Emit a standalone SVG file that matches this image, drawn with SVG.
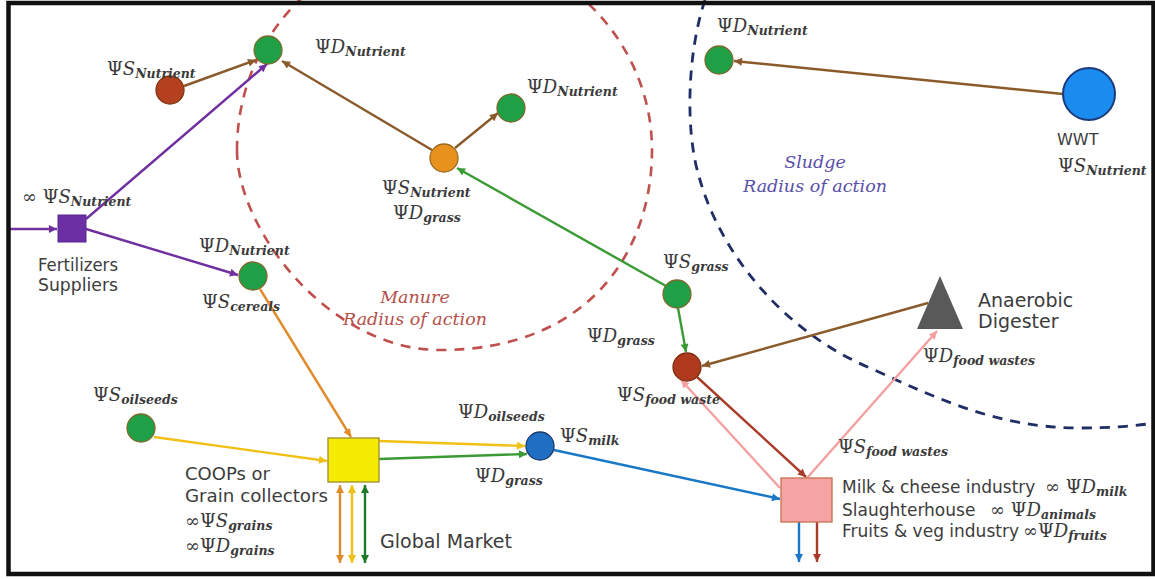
<svg xmlns="http://www.w3.org/2000/svg" width="1155" height="579" viewBox="0 0 1155 579">
<style>
.m{font-family:"DejaVu Serif",serif;font-size:18px;fill:#3a3a3a}
.i{font-style:italic}
.s{font-style:italic;font-weight:bold;font-size:12.5px}
.t{font-family:"DejaVu Sans","Liberation Sans",sans-serif;font-size:18px;fill:#3c3c3c}
.ra{font-family:"DejaVu Serif",serif;font-style:italic;font-size:17.5px;text-anchor:middle}
.gn{fill:#1fa047;stroke:#7c6a2c;stroke-width:1.3}
.c{fill:none;stroke-width:2.4}
</style>
<defs>
<marker id="aBr" viewBox="0 0 10 10" refX="10" refY="5" markerWidth="10" markerHeight="8" markerUnits="userSpaceOnUse" orient="auto-start-reverse"><path d="M0,0L10,5L0,10z" fill="#8b5a2b"/></marker>
<marker id="aPu" viewBox="0 0 10 10" refX="10" refY="5" markerWidth="10" markerHeight="8" markerUnits="userSpaceOnUse" orient="auto-start-reverse"><path d="M0,0L10,5L0,10z" fill="#7030a0"/></marker>
<marker id="aGr" viewBox="0 0 10 10" refX="10" refY="5" markerWidth="10" markerHeight="8" markerUnits="userSpaceOnUse" orient="auto-start-reverse"><path d="M0,0L10,5L0,10z" fill="#3a9a34"/></marker>
<marker id="aDg" viewBox="0 0 10 10" refX="10" refY="5" markerWidth="10" markerHeight="8" markerUnits="userSpaceOnUse" orient="auto-start-reverse"><path d="M0,0L10,5L0,10z" fill="#1f7a2a"/></marker>
<marker id="aOr" viewBox="0 0 10 10" refX="10" refY="5" markerWidth="10" markerHeight="8" markerUnits="userSpaceOnUse" orient="auto-start-reverse"><path d="M0,0L10,5L0,10z" fill="#e08c2c"/></marker>
<marker id="aYe" viewBox="0 0 10 10" refX="10" refY="5" markerWidth="10" markerHeight="8" markerUnits="userSpaceOnUse" orient="auto-start-reverse"><path d="M0,0L10,5L0,10z" fill="#f2c014"/></marker>
<marker id="aBl" viewBox="0 0 10 10" refX="10" refY="5" markerWidth="10" markerHeight="8" markerUnits="userSpaceOnUse" orient="auto-start-reverse"><path d="M0,0L10,5L0,10z" fill="#1a78c8"/></marker>
<marker id="aRd" viewBox="0 0 10 10" refX="10" refY="5" markerWidth="10" markerHeight="8" markerUnits="userSpaceOnUse" orient="auto-start-reverse"><path d="M0,0L10,5L0,10z" fill="#a83c28"/></marker>
<marker id="aPk" viewBox="0 0 10 10" refX="10" refY="5" markerWidth="10" markerHeight="8" markerUnits="userSpaceOnUse" orient="auto-start-reverse"><path d="M0,0L10,5L0,10z" fill="#f4a0a0"/></marker>
</defs>
<rect x="0" y="0" width="1155" height="579" fill="#ffffff"/>

<g id="radii">
<path d="M237,150 C237,230 330,350 440,350 C590,350 652,250 652,150 C652,40 560,-55 440,-55 C320,-55 237,40 237,150Z" fill="none" stroke="#c0504d" stroke-width="2.6" stroke-dasharray="10,8"/>
<path d="M705,0 C688,50 684,130 700,180 C720,250 780,330 870,368 C940,400 1000,428 1080,428 C1110,428 1135,426 1155,423" fill="none" stroke="#1f2f66" stroke-width="2.8" stroke-dasharray="10,8"/>
<text class="ra" x="415" y="303" fill="#b5504a">Manure</text>
<text class="ra" x="415" y="325" fill="#b5504a">Radius of action</text>
<text class="ra" x="815" y="168" fill="#5a4ea8">Sludge</text>
<text class="ra" x="815" y="192" fill="#5a4ea8">Radius of action</text>
</g>

<g id="connectors">
<line class="c" x1="184" y1="86" x2="256" y2="60" stroke="#8b5a2b" marker-end="url(#aBr)"/>
<line class="c" x1="86" y1="219" x2="267" y2="64" stroke="#7030a0" marker-end="url(#aPu)"/>
<line class="c" x1="86" y1="229" x2="238" y2="275" stroke="#7030a0" marker-end="url(#aPu)"/>
<line class="c" x1="9" y1="229" x2="57" y2="229" stroke="#7030a0" marker-end="url(#aPu)"/>
<line class="c" x1="432" y1="150" x2="282" y2="61" stroke="#8b5a2b" marker-end="url(#aBr)"/>
<line class="c" x1="455" y1="148" x2="498" y2="113" stroke="#8b5a2b" marker-end="url(#aBr)"/>
<line class="c" x1="666" y1="286" x2="457" y2="168" stroke="#3a9a34" marker-end="url(#aGr)"/>
<line class="c" x1="1063" y1="94" x2="734" y2="61" stroke="#8b5a2b" marker-end="url(#aBr)"/>
<line class="c" x1="678" y1="308" x2="686" y2="352" stroke="#3a9a34" marker-end="url(#aGr)"/>
<line class="c" x1="928" y1="303" x2="702" y2="366" stroke="#8b5a2b" marker-end="url(#aBr)"/>
<line class="c" x1="697" y1="377" x2="806" y2="477" stroke="#a83c28" marker-end="url(#aRd)"/>
<line class="c" x1="780" y1="488" x2="681" y2="380" stroke="#f4a0a0" marker-end="url(#aPk)"/>
<line class="c" x1="807" y1="478" x2="937" y2="331" stroke="#f4a0a0" marker-end="url(#aPk)"/>
<line class="c" x1="554" y1="450" x2="780" y2="499" stroke="#1a78c8" marker-end="url(#aBl)"/>
<line class="c" x1="260" y1="289" x2="351" y2="437" stroke="#e08c2c" marker-end="url(#aOr)"/>
<line class="c" x1="154" y1="437" x2="327" y2="461" stroke="#f2c014" marker-end="url(#aYe)"/>
<line class="c" x1="379" y1="441" x2="525" y2="446" stroke="#f2c014" marker-end="url(#aYe)"/>
<line class="c" x1="379" y1="459" x2="527" y2="454" stroke="#3a9a34" marker-end="url(#aGr)"/>
<line class="c" x1="340" y1="485" x2="340" y2="563" stroke="#e08c2c" marker-start="url(#aOr)" marker-end="url(#aOr)"/>
<line class="c" x1="352" y1="485" x2="352" y2="563" stroke="#f2c014" marker-start="url(#aYe)" marker-end="url(#aYe)"/>
<line class="c" x1="365" y1="485" x2="365" y2="563" stroke="#1f7a2a" marker-start="url(#aDg)" marker-end="url(#aDg)"/>
<line class="c" x1="799" y1="522" x2="799" y2="562" stroke="#1a78c8" marker-end="url(#aBl)"/>
<line class="c" x1="817" y1="522" x2="817" y2="562" stroke="#a83c28" marker-end="url(#aRd)"/>
</g>

<g id="n-demand-top"><circle class="gn" cx="268" cy="50" r="14"/>
<text class="m" x="315" y="53">Ψ<tspan class="i">D</tspan><tspan class="s" dy="3">Nutrient</tspan></text></g>
<g id="n-supply-nutrient"><circle cx="170" cy="90" r="14" fill="#b5401f" stroke="#7a3a12" stroke-width="1.3"/>
<text class="m" x="107" y="75">Ψ<tspan class="i">S</tspan><tspan class="s" dy="3">Nutrient</tspan></text></g>
<g id="n-fertilizers"><rect x="58" y="215" width="28" height="27" fill="#6b2fa3" stroke="#5a2890" stroke-width="1"/>
<text class="m" x="22" y="203">∞ Ψ<tspan class="i">S</tspan><tspan class="s" dy="3">Nutrient</tspan></text>
<text class="t" x="38" y="271" textLength="80" lengthAdjust="spacingAndGlyphs">Fertilizers</text>
<text class="t" x="38" y="291" textLength="80" lengthAdjust="spacingAndGlyphs">Suppliers</text></g>
<g id="n-cereals"><circle class="gn" cx="253" cy="276" r="14"/>
<text class="m" x="199" y="252">Ψ<tspan class="i">D</tspan><tspan class="s" dy="3">Nutrient</tspan></text>
<text class="m" x="202" y="308">Ψ<tspan class="i">S</tspan><tspan class="s" dy="3">cereals</tspan></text></g>
<g id="n-manure"><circle cx="444" cy="158" r="14" fill="#e8921e" stroke="#9a6a20" stroke-width="1.3"/>
<text class="m" x="382" y="194">Ψ<tspan class="i">S</tspan><tspan class="s" dy="3">Nutrient</tspan></text>
<text class="m" x="393" y="219">Ψ<tspan class="i">D</tspan><tspan class="s" dy="3">grass</tspan></text></g>
<g id="n-demand-mid"><circle class="gn" cx="511" cy="108" r="14"/>
<text class="m" x="527" y="93">Ψ<tspan class="i">D</tspan><tspan class="s" dy="3">Nutrient</tspan></text></g>
<g id="n-demand-right"><circle class="gn" cx="719" cy="60" r="14"/>
<text class="m" x="717" y="32">Ψ<tspan class="i">D</tspan><tspan class="s" dy="3">Nutrient</tspan></text></g>
<g id="n-wwt"><circle cx="1089" cy="94" r="26" fill="#1a8cf0" stroke="#1a3a7a" stroke-width="2"/>
<text class="t" x="1057" y="145" style="font-size:16px">WWT</text>
<text class="m" x="1058" y="172">Ψ<tspan class="i">S</tspan><tspan class="s" dy="3">Nutrient</tspan></text></g>
<g id="n-grass"><circle class="gn" cx="677" cy="294" r="14"/>
<text class="m" x="663" y="268">Ψ<tspan class="i">S</tspan><tspan class="s" dy="3">grass</tspan></text></g>
<g id="n-foodwaste"><circle cx="687" cy="367" r="14" fill="#b03a1e" stroke="#7a3012" stroke-width="1.3"/>
<text class="m" x="587" y="342">Ψ<tspan class="i">D</tspan><tspan class="s" dy="3">grass</tspan></text>
<text class="m" x="617" y="401">Ψ<tspan class="i">S</tspan><tspan class="s" dy="3">food waste</tspan></text></g>
<g id="n-digester"><path d="M940,276 L963,329 L917,329Z" fill="#595959"/>
<text class="t" x="978" y="307" style="font-size:19px">Anaerobic</text>
<text class="t" x="978" y="328" style="font-size:19px">Digester</text>
<text class="m" x="923" y="362">Ψ<tspan class="i">D</tspan><tspan class="s" dy="3">food wastes</tspan></text></g>
<g id="n-oilseeds"><circle class="gn" cx="141" cy="428" r="14"/>
<text class="m" x="93" y="401">Ψ<tspan class="i">S</tspan><tspan class="s" dy="3">oilseeds</tspan></text></g>
<g id="n-coops"><rect x="328" y="438" width="51" height="44" fill="#f5eb00" stroke="#a08a30" stroke-width="1.3"/>
<text class="t" x="185" y="480">COOPs or</text>
<text class="t" x="185" y="502" textLength="143" lengthAdjust="spacingAndGlyphs">Grain collectors</text>
<text class="m" x="185" y="527">∞Ψ<tspan class="i">S</tspan><tspan class="s" dy="3">grains</tspan></text>
<text class="m" x="185" y="552">∞Ψ<tspan class="i">D</tspan><tspan class="s" dy="3">grains</tspan></text>
<text class="t" x="380" y="548" style="font-size:19px">Global Market</text></g>
<g id="n-milk"><circle cx="540" cy="446" r="14" fill="#1f6fc4" stroke="#1a3a6a" stroke-width="1.3"/>
<text class="m" x="458" y="418">Ψ<tspan class="i">D</tspan><tspan class="s" dy="3">oilseeds</tspan></text>
<text class="m" x="475" y="482">Ψ<tspan class="i">D</tspan><tspan class="s" dy="3">grass</tspan></text>
<text class="m" x="560" y="442">Ψ<tspan class="i">S</tspan><tspan class="s" dy="3">milk</tspan></text></g>
<g id="n-industry"><rect x="781" y="478" width="51" height="44" fill="#f5a3a3" stroke="#c87050" stroke-width="1.3"/>
<text class="m" x="838" y="453">Ψ<tspan class="i">S</tspan><tspan class="s" dy="3">food wastes</tspan></text>
<text class="t" x="842" y="493" style="font-size:17px">Milk &amp; cheese industry</text>
<text class="m" x="1045" y="493">∞ Ψ<tspan class="i">D</tspan><tspan class="s" dy="3">milk</tspan></text>
<text class="t" x="842" y="516" style="font-size:17px">Slaughterhouse</text>
<text class="m" x="990" y="516">∞ Ψ<tspan class="i">D</tspan><tspan class="s" dy="3">animals</tspan></text>
<text class="t" x="842" y="537" style="font-size:17px">Fruits &amp; veg industry</text>
<text class="m" x="1023" y="537">∞Ψ<tspan class="i">D</tspan><tspan class="s" dy="3">fruits</tspan></text></g>

<rect id="frame" x="8.5" y="3" width="1145" height="571" fill="none" stroke="#111111" stroke-width="4.5"/>
</svg>
